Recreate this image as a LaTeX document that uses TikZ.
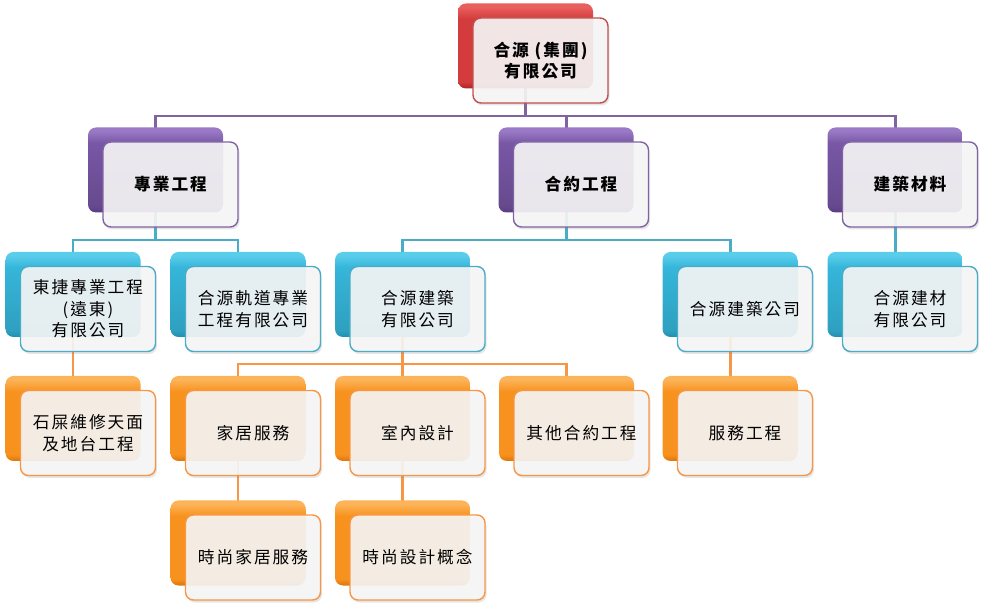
\documentclass[tikz,border=0pt]{standalone}
\usepackage{fontspec}
\newfontfamily\cjk[LetterSpace=12]{Noto Sans CJK TC}
\usetikzlibrary{calc,backgrounds,shadows}
\definecolor{hyred}{HTML}{C0504D}
\definecolor{hyredmid}{HTML}{D43B3C}
\definecolor{hyredtop}{HTML}{E8605E}
\definecolor{hyredbot}{HTML}{A82624}
\definecolor{hypurple}{HTML}{8064A2}
\definecolor{hypurplemid}{HTML}{7857A6}
\definecolor{hypurpletop}{HTML}{9A7AC6}
\definecolor{hypurplebot}{HTML}{5A3C86}
\definecolor{hyteal}{HTML}{4BACC6}
\definecolor{hytealmid}{HTML}{35B6DA}
\definecolor{hytealtop}{HTML}{5ACDEB}
\definecolor{hytealbot}{HTML}{2090B0}
\definecolor{hyorange}{HTML}{F79646}
\definecolor{hyorangemid}{HTML}{F8921E}
\definecolor{hyorangetop}{HTML}{FCB45A}
\definecolor{hyorangebot}{HTML}{DC760E}
\pgfdeclareverticalshading{hyredbox}{100bp}{color(0bp)=(hyredbot); color(25bp)=(hyredbot);
  color(29bp)=(hyredmid); color(66bp)=(hyredmid); color(73bp)=(hyredtop); color(100bp)=(hyredtop)}
\pgfdeclareverticalshading{hypurplebox}{100bp}{color(0bp)=(hypurplebot); color(25bp)=(hypurplebot);
  color(29bp)=(hypurplemid!85!black); color(66bp)=(hypurplemid); color(73bp)=(hypurpletop); color(100bp)=(hypurpletop)}
\pgfdeclareverticalshading{hytealbox}{100bp}{color(0bp)=(hytealbot); color(25bp)=(hytealbot);
  color(29bp)=(hytealmid!88!black); color(66bp)=(hytealmid); color(73bp)=(hytealtop); color(100bp)=(hytealtop)}
\pgfdeclareverticalshading{hyorangebox}{100bp}{color(0bp)=(hyorangebot); color(25bp)=(hyorangebot);
  color(29bp)=(hyorangemid); color(66bp)=(hyorangemid); color(73bp)=(hyorangetop); color(100bp)=(hyorangetop)}

\begin{document}
\begin{tikzpicture}[x = 0.2mm, y = -0.2mm,
  back/.style = {rounded corners = 1.6mm, minimum width = 27mm, minimum height = 17mm,
    shading = #1box, draw = none},
  front/.style = {rounded corners = 1.6mm, minimum width = 27mm, minimum height = 17mm,
    draw = #1, line width = 0.8pt, fill = gray!6, fill opacity = 0.9, text opacity = 1,
    drop shadow = {opacity = 0.2, shadow xshift = 0.3mm, shadow yshift = -0.5mm},
    align = center, font = \cjk\fontsize{9.5}{12.3}\selectfont},
  link/.style = {draw = #1, line width = 1.7pt}]
\useasboundingbox (0,0) rectangle (1000,609);
% level 0
\node[back = hyred] (A) at (525.5,46) {};
\node[front = hyred] (At) at ($ (A) + (15,14.5) $) {\bfseries 合源 (集團)\\\bfseries 有限公司};
% level 1
\node[back = hypurple] (B1) at (155.5,170) {};
\node[front = hypurple] (B1t) at ($ (B1) + (15,14.5) $) {\bfseries 專業工程};
\node[back = hypurple] (B2) at (566,170) {};
\node[front = hypurple] (B2t) at ($ (B2) + (15,14.5) $) {\bfseries 合約工程};
\node[back = hypurple] (B3) at (895,170) {};
\node[front = hypurple] (B3t) at ($ (B3) + (15,14.5) $) {\bfseries 建築材料};
% level 2
\node[back = hyteal] (C1) at (73,294.5) {};
\node[front = hyteal] (C1t) at ($ (C1) + (15,14.5) $) {東捷專業工程\\(遠東)\\有限公司};
\node[back = hyteal] (C2) at (238,294.5) {};
\node[front = hyteal] (C2t) at ($ (C2) + (15,14.5) $) {合源軌道專業\\工程有限公司};
\node[back = hyteal] (C3) at (402.5,294.5) {};
\node[front = hyteal] (C3t) at ($ (C3) + (15,14.5) $) {合源建築\\有限公司};
\node[back = hyteal] (C4) at (730,294.5) {};
\node[front = hyteal] (C4t) at ($ (C4) + (15,14.5) $) {合源建築公司};
\node[back = hyteal] (C5) at (895,294.5) {};
\node[front = hyteal] (C5t) at ($ (C5) + (15,14.5) $) {合源建材\\有限公司};
% level 3
\node[back = hyorange] (D1) at (73,418.5) {};
\node[front = hyorange] (D1t) at ($ (D1) + (15,14.5) $) {石屎維修天面\\及地台工程};
\node[back = hyorange] (D2) at (238,418.5) {};
\node[front = hyorange] (D2t) at ($ (D2) + (15,14.5) $) {家居服務};
\node[back = hyorange] (D3) at (402.5,418.5) {};
\node[front = hyorange] (D3t) at ($ (D3) + (15,14.5) $) {室內設計};
\node[back = hyorange] (D4) at (566.5,418.5) {};
\node[front = hyorange] (D4t) at ($ (D4) + (15,14.5) $) {其他合約工程};
\node[back = hyorange] (D5) at (730,418.5) {};
\node[front = hyorange] (D5t) at ($ (D5) + (15,14.5) $) {服務工程};
% level 4
\node[back = hyorange] (E1) at (238,543) {};
\node[front = hyorange] (E1t) at ($ (E1) + (15,14.5) $) {時尚家居服務};
\node[back = hyorange] (E2) at (402.5,543) {};
\node[front = hyorange] (E2t) at ($ (E2) + (15,14.5) $) {時尚設計概念};
% connectors
\begin{scope}[on background layer]
\coordinate (p) at (0,116);
\coordinate (q) at (0,240);
\coordinate (r) at (0,364);
\draw[link = hypurple] (A.center) -- (A |- p) -| (B1.center);
\draw[link = hypurple] (A.center) -- (A |- p) -| (B2.center);
\draw[link = hypurple] (A.center) -- (A |- p) -| (B3.center);
\draw[link = hyteal] (B1.center) -- (B1 |- q) -| (C1.center);
\draw[link = hyteal] (B1.center) -- (B1 |- q) -| (C2.center);
\draw[link = hyteal] (B2.center) -- (B2 |- q) -| (C3.center);
\draw[link = hyteal] (B2.center) -- (B2 |- q) -| (C4.center);
\draw[link = hyteal] (B3.center) -- (C5.center);
\draw[link = hyorange] (C1.center) -- (D1.center);
\draw[link = hyorange] (C3.center) -- (C3 |- r) -| (D2.center);
\draw[link = hyorange] (C3.center) -- (C3 |- r) -| (D3.center);
\draw[link = hyorange] (C3.center) -- (C3 |- r) -| (D4.center);
\draw[link = hyorange] (C4.center) -- (D5.center);
\draw[link = hyorange] (D2.center) -- (E1.center);
\draw[link = hyorange] (D3.center) -- (E2.center);
\end{scope}
\end{tikzpicture}
\end{document}
